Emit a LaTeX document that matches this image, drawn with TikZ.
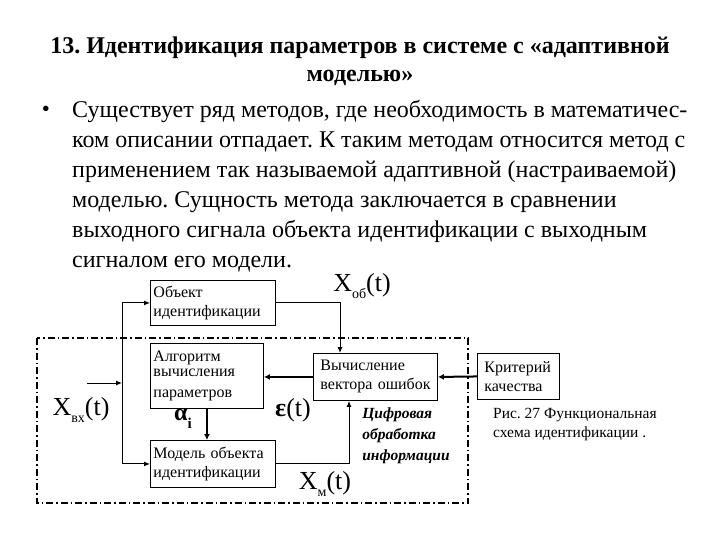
\documentclass[tikz,border=0pt]{standalone}
\usepackage{fontspec}
\setmainfont{Liberation Serif}
\usepackage{tikz}
\usetikzlibrary{arrows.meta, positioning}
\frenchspacing

\newcommand{\sigxt}[1]{X\raisebox{-0.3em}{\fontsize{14}{14}\selectfont #1}(t)}

\begin{document}
\begin{tikzpicture}[
  x=1pt, y=-1pt,
  box/.style    = {draw, line width=0.9pt, anchor=north west, align=left,
                   inner sep=3pt, font=\fontsize{16}{19}\selectfont},
  arrow/.style  = {-{Latex[length=6pt,width=5pt]}, line width=1pt},
  thickarrow/.style = {-{Latex[length=6pt,width=6pt]}, line width=2pt},
  sig/.style    = {font=\fontsize{26}{26}\selectfont, inner sep=0pt}
]
  \useasboundingbox (0,0) rectangle (720,540);

  % heading and text
  \node[font=\fontsize{24}{28}\selectfont\bfseries, align=center] (title) at (360,61)
    {13. Идентификация параметров в системе с «адаптивной\\моделью»};
  \node[font=\fontsize{23}{23}\selectfont] (bullet) at (46,111) {•};
  \node[font=\fontsize{24}{30}\selectfont, align=left, anchor=north west, inner sep=0pt] (body) at (72,100)
    {Существует ряд методов, где необходимость в математичес-\\
     ком описании отпадает. К таким методам относится метод с\\
     применением так называемой адаптивной (настраиваемой)\\
     моделью. Сущность метода заключается в сравнении\\
     выходного сигнала объекта идентификации с выходным\\
     сигналом его модели.};

  % digital part
  \draw[line width=1.5pt, dash pattern=on 7pt off 3pt on 1.5pt off 3pt]
    (37,338) rectangle (468,503);

  % blocks
  \node[box, minimum width=125pt, minimum height=45pt, text width=119pt] (obj) at (150,280)
    {Объект\\идентификации};
  \node[box, minimum width=113pt, minimum height=65pt, text width=107pt,
        font=\fontsize{16}{15}\selectfont] (alg) at (150,343)
    {Алгоритм\\вычисления\\[6pt]параметров};
  \node[box, minimum width=125pt, minimum height=47pt, text width=119pt] (model) at (150,440)
    {Модель объекта\\идентификации};
  \node[box, minimum width=124pt, minimum height=47pt, text width=118pt] (err) at (313,353)
    {\hspace*{4pt}Вычисление\\\hspace*{4pt}вектора ошибок};
  \node[box, minimum width=82pt, minimum height=46pt, text width=76pt] (crit) at (477,353)
    {\hspace*{4pt}Критерий\\\hspace*{4pt}качества};

  % signals
  \node[sig] (xob) at (362,286) {\sigxt{об}};
  \node[sig] (xin) at (81,410) {\sigxt{вх}};
  \node[sig] (xm)  at (325,484) {\sigxt{м}};
  \node[sig] (eps) at (293,410) {\textbf{ε}(t)};
  \node[sig, font=\fontsize{24}{24}\selectfont\bfseries] (alpha) at (183,419)
    {α\raisebox{-0.35em}{\fontsize{15}{15}\selectfont i}};
  \node[font=\fontsize{15.5}{21}\selectfont\bfseries\itshape, align=left] (dsp) at (406,436)
    {Цифровая\\обработка\\информации};
  \node[font=\fontsize{15.5}{19}\selectfont, align=left, anchor=north west, inner sep=0pt] (cap) at (493,408)
    {Рис. 27 Функциональная\\схема идентификации .};

  % connections
  \coordinate (in)  at (87,383);
  \coordinate (bus) at (122,383);
  \draw[arrow] (in) -- (bus);
  \draw[arrow] (bus |- obj.west) -- (obj.west);
  \draw[arrow] (bus |- obj.west) -- (bus |- model.west) -- (model.west);
  \draw[arrow] (obj.east) -| ([xshift=27pt]err.north west);
  \draw[thickarrow] (err.west) -- (err.west -| alg.east);
  \draw[thickarrow] (alg.south) -- (alg.south |- model.north);
  \draw[arrow] (model.east) -| ([xshift=36pt]err.south west);
  \draw[thickarrow] (crit.west) -- (err.east);
\end{tikzpicture}
\end{document}
